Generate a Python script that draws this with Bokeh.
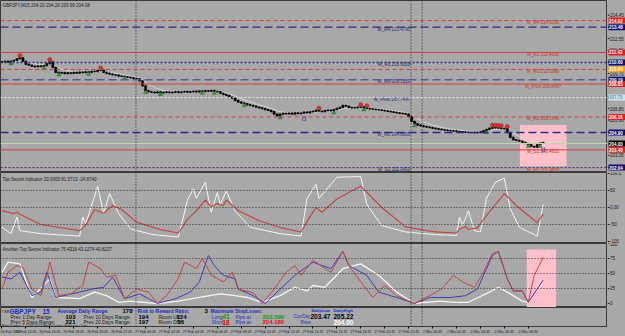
import numpy as np
from bokeh.plotting import figure
from bokeh.layouts import column, row
from bokeh.models import (Range1d, FixedTicker, Span, Label, BoxAnnotation)
from bokeh.embed import file_html
from bokeh.resources import INLINE
from bokeh.core.properties import value

# ---------------- data ----------------
closes = [210.66, 210.70, 210.64, 210.72, 210.78, 210.90, 210.98, 210.70, 210.45, 210.38,
          210.30, 210.26, 210.32, 210.28, 210.35, 210.50, 210.66, 210.20, 209.80, 209.74,
          209.78, 209.70, 209.76, 209.72, 209.80, 209.74, 209.82, 209.78, 209.84, 209.80,
          209.88, 209.86, 209.95, 209.98, 209.80, 209.72, 209.66, 209.60, 209.58, 209.50,
          209.48, 209.44, 209.40, 209.36, 209.30, 209.28, 209.10, 208.70, 208.30, 208.22,
          208.18, 208.14, 208.20, 208.12, 208.16, 208.20, 208.14, 208.18, 208.22, 208.16,
          208.20, 208.24, 208.18, 208.22, 208.26, 208.20, 208.28, 208.24, 208.30, 208.26,
          208.32, 208.24, 208.22, 208.10, 208.00, 207.92, 207.78, 207.70, 207.50, 207.38,
          207.30, 207.24, 207.16, 207.10, 207.04, 206.96, 206.90, 206.84, 206.76, 206.70,
          206.60, 206.40, 206.24, 206.40, 206.46, 206.42, 206.48, 206.40, 206.50, 206.44,
          206.48, 206.56, 206.50, 206.58, 206.62, 206.70, 206.64, 206.60, 206.68, 206.72,
          206.66, 206.76, 206.86, 206.94, 207.10, 207.04, 206.94, 206.90, 206.92, 206.96,
          206.98, 206.90, 206.86, 206.82, 206.80, 206.76, 206.74, 206.70, 206.66, 206.62,
          206.58, 206.54, 206.50, 206.46, 206.44, 206.40, 206.20, 205.80, 205.60, 205.50,
          205.44, 205.38, 205.34, 205.30, 205.24, 205.20, 205.16, 205.12, 205.10, 205.06,
          205.04, 205.02, 204.98, 204.96, 204.94, 204.92, 204.90, 204.90, 204.88, 204.90,
          204.94, 205.04, 205.14, 205.24, 205.30, 205.28, 205.26, 205.22, 205.20, 204.90,
          204.50, 204.30, 204.26, 204.20, 204.10, 204.00, 203.90, 203.76, 203.70, 203.90,
          204.04, 204.08]
first_open = 210.62

level_names = ["M_M4", "W_M4", "M_R1", "W_R1", "M_M3", "W_M3", "M_Pivot", "W_Pivot",
               "M_M2", "W_M2", "M_S1", "W_S1", "M_M1"]
level_prices = [214.0190, 213.4790, 211.4200, 210.6020, 210.0380, 209.1950, 208.8487,
                207.7497, 206.1640, 204.8950, 203.4810, 202.0400, 201.9800]
bid_price = 204.00

price_ticks = [214.45, 213.50, 212.55, 211.60, 210.65, 209.70, 208.75, 207.80, 206.85,
               205.90, 204.95, 203.05, 202.10]

# indicator 1 (white fast line, red slow line): (bar, value)
ind1_white_bar = [0, 3, 5, 6, 13, 26, 27, 28, 32, 34, 36, 39, 43, 50, 59, 62, 64, 65, 68,
                  70, 72, 73, 75, 78, 83, 93, 100, 102, 105, 106, 108, 112, 120, 122, 127,
                  135, 145, 152, 153, 154, 156, 158, 160, 162, 165, 168, 170, 173, 179, 181]
ind1_white_val = [-58, -77, -28, -68, -77, -84, -28, -48, 62, -17, 41, -18, -63, -79, -87,
                  21, 55, 27, 74, -14, 44, 9, 48, -11, -58, -77, -84, 26, 68, 27, 47, 89,
                  91, 9, -53, -72, -80, -82, -28, -53, -10, -68, -72, 27, 74, 86, -4, -58,
                  -84, 9]
ind1_red_bar = [0, 4, 5, 6, 13, 26, 28, 31, 34, 37, 40, 45, 53, 59, 62, 64, 66, 68, 70,
                72, 74, 75, 79, 86, 93, 100, 103, 105, 107, 112, 120, 127, 135, 145, 152,
                153, 155, 156, 159, 161, 168, 172, 179, 181]
ind1_red_val = [-9, -18, -14, -20, -50, -68, -52, -6, -17, 6, -6, -43, -65, -75, -35, -18,
                0, 22, 2, 12, 5, 22, -9, -39, -59, -72, -27, 0, -14, 25, 63, 0, -57, -72,
                -75, -64, -56, -64, -60, -35, 41, 6, -45, -19]
ind1_levels = [50, 0, -50]
ind1_ticks = [100, 50, 0, -50, -100]
ind1_tick_labels = ["100.0", "50", "0.00", "-50", "-100"]

# indicator 2 (red, blue, white): (bar, value)
ind2_red_bar = [0, 2, 5, 7, 10, 13, 15, 16, 19, 23, 27, 29, 33, 35, 38, 41, 45, 49, 52,
                55, 59, 61, 65, 67, 70, 74, 77, 79, 84, 87, 91, 95, 98, 100, 104, 110, 114,
                116, 120, 124, 128, 132, 138, 143, 147, 151, 154, 158, 161, 164, 166, 169,
                171, 174, 176, 178, 181]
ind2_red_val = [24, 52, 63, 60, 24, 13, 47, 69, 13, 16, 30, 69, 58, 44, 47, 8, 24, 19, 0,
                13, 42, 69, 58, 75, 47, 36, 52, 24, 18, 0, 24, 52, 63, 47, 72, 52, 87, 63,
                36, 10, 30, 13, 0, 13, 24, 47, 36, 27, 52, 83, 87, 41, 21, 21, 2, 47, 77]
ind2_blue_bar = [0, 3, 6, 10, 13, 15, 18, 26, 30, 34, 37, 41, 46, 52, 58, 63, 66, 69, 71,
                 74, 78, 79, 84, 88, 92, 98, 104, 110, 114, 116, 122, 126, 132, 138, 143,
                 150, 155, 159, 164, 166, 169, 171, 174, 176, 181]
ind2_blue_val = [44, 41, 52, 13, 19, 52, 10, 19, 24, 27, 44, 8, 16, 0, 8, 19, 36, 80, 63,
                 47, 41, 24, 13, 0, 19, 47, 69, 58, 87, 63, 47, 19, 10, 0, 10, 10, 13, 24,
                 80, 87, 41, 21, 21, 2, 39]
ind2_white_bar = [0, 2, 6, 10, 16, 18, 26, 31, 35, 39, 43, 52, 59, 66, 73, 78, 82, 87, 93,
                  98, 102, 104, 108, 114, 120, 126, 132, 138, 146, 152, 156, 163, 166, 170,
                  174, 176]
ind2_white_val = [52, 69, 66, 10, 41, 10, 8, 19, 13, 2, 4, 0, 4, 10, 16, 13, 10, 2, 13, 27,
                  21, 30, 27, 58, 66, 47, 19, 0, 4, 2, 2, 19, 27, 16, 4, 2]
ind2_levels = [75, 50, 25]
ind2_ticks = [100, 75, 50, 25, 0]
ind2_tick_labels = ["100", "75", "50", "25", "0"]

# time axis
time_tick_bars = [0, 8, 16, 24, 32, 40, 48, 56, 64, 72, 80, 88, 96, 104, 112, 120, 128,
                  136, 144, 152, 160, 168, 176]
time_tick_labels = ["26 Feb 2009", "26 Feb 14:45", "26 Feb 16:45", "26 Feb 18:45",
                    "26 Feb 20:45", "26 Feb 22:45", "27 Feb 00:45", "27 Feb 02:45",
                    "27 Feb 04:45", "27 Feb 06:45", "27 Feb 08:45", "27 Feb 10:45",
                    "27 Feb 12:45", "27 Feb 14:45", "27 Feb 16:45", "27 Feb 18:45",
                    "27 Feb 20:45", "27 Feb 22:45", "2 Mar 00:45", "2 Mar 02:45",
                    "2 Mar 04:45", "2 Mar 06:45", "2 Mar 08:45"]
separator_bars = [44.8, 136.8, 140.5]

# signal markers (bars)
red_marks = [6, 16, 33, 106, 120, 122, 164, 165, 166, 167, 169]
green_marks = [3, 14, 19, 29, 41, 48, 53, 67, 71, 81, 93, 111, 121, 138, 162, 176, 180]

# info panel values
info_stats = {"symbol": "GBPJPY", "tf": "15", "adr": "178", "rr": "3",
              "p1": "103", "p5": "221", "p10": "194", "p20": "197",
              "room_up": "124", "room_dn": "56", "long_n": "41", "short_n": "18",
              "long_px": "203.590", "short_px": "204.180",
              "dlow": "203.47", "dhigh": "205.22", "price": "204.00"}

# ---------------- styling ----------------
BG = "#a8a8a8"
WF = 607          # chart frame width
WA = 625 - WF     # price-scale strip width
xr = Range1d(-0.5, 202.5)
FONT = value("Liberation Sans")
N = len(closes)


def pane(h, yr, bottom=False):
    p = figure(width=WF, height=h, x_range=xr, y_range=yr, output_backend="svg",
               toolbar_location=None, x_axis_location="below" if bottom else None,
               y_axis_location=None, min_border_left=0, min_border_right=0,
               min_border_top=0, min_border_bottom=0)
    p.background_fill_color = BG
    p.border_fill_color = BG
    p.outline_line_color = "#3a3a3a"
    p.outline_line_width = 1
    p.grid.visible = False
    for b in separator_bars:
        p.add_layout(Span(location=b, dimension="height", line_color="#202020",
                          line_width=1, line_dash="1 2"))
    s = figure(width=WA, height=h, x_range=Range1d(0, WA), y_range=yr,
               output_backend="svg", toolbar_location=None, x_axis_location=None,
               y_axis_location=None, min_border_left=0, min_border_right=0,
               min_border_top=0, min_border_bottom=(8 if bottom else 0))
    s.background_fill_color = BG
    s.border_fill_color = BG
    s.outline_line_color = None
    s.grid.visible = False
    return p, s


def scale_ticks(s, ticks, labels, fs="4.5px"):
    s.segment(x0=[0] * len(ticks), x1=[2] * len(ticks), y0=ticks, y1=ticks,
              line_color="#202020", line_width=1)
    s.text(x=[2.5] * len(ticks), y=ticks, text=labels, text_font_size=fs,
           text_color="#1a1a1a", text_baseline="middle", text_align="left",
           text_font=FONT)


# ---------- main price pane ----------
top_p = 204.0 + 143 * 0.0815
bot_p = 204.0 - 29 * 0.0815
p1, s1 = pane(172, Range1d(bot_p, top_p))
scale_ticks(s1, price_ticks, [f"{t:.2f}" for t in price_ticks])

styles = {
    "M_M4": ("#d04040", "4 3", 1), "W_M4": ("#2a2a80", "8 4", 1.3),
    "M_R1": ("#d04040", "solid", 1), "W_R1": ("#2a2a80", "2 2", 1.3),
    "M_M3": ("#d04040", "4 3", 1), "W_M3": ("#5a5a9a", "8 4", 1.3),
    "M_Pivot": ("#d04040", "solid", 1), "W_Pivot": ("#e8e8e8", "2 2", 1),
    "M_M2": ("#d04040", "4 3", 1), "W_M2": ("#2a2a80", "8 4", 1.3),
    "M_S1": ("#d04040", "solid", 1), "W_S1": ("#2a2a80", "2 2", 1),
    "M_M1": ("#e07070", "1 3", 1),
}
p1.add_layout(BoxAnnotation(left=173.2, right=188.8, bottom=202.15, top=205.5,
                            fill_color="#ffc0cc", fill_alpha=1.0, line_color=None,
                            level="underlay"))
for name, lv in zip(level_names, level_prices):
    c, d, w = styles[name]
    p1.add_layout(Span(location=lv, dimension="width", line_color=c, line_dash=d,
                       line_width=w))
p1.add_layout(Span(location=bid_price, dimension="width", line_color="#b8d8b0",
                   line_width=1))

# level labels
wx, wy, wt = [], [], []
mx, my, mt = [], [], []
for name, lv in zip(level_names, level_prices):
    if name.startswith("W_"):
        wx.append(136.5); wy.append(lv); wt.append(f"{name} {lv:.4f}")
    else:
        mx.append(181.0); my.append(lv); mt.append(f"{name} {lv:.4f}")
p1.text(x=wx, y=wy, text=wt, text_font_size="4.5px", text_color="#28287a",
        text_align="right", text_baseline="middle", y_offset=2, text_font=FONT)
p1.text(x=mx, y=my, text=mt, text_font_size="4.5px", text_color="#c03a20",
        text_align="center", text_baseline="middle", y_offset=2, text_font=FONT)

# candles
opens = [first_open] + closes[:-1]
idx = list(range(N))
highs = [max(o, c) + 0.06 for o, c in zip(opens, closes)]
lows = [min(o, c) - 0.06 for o, c in zip(opens, closes)]
ema = []
a = 2 / (8 + 1)
for i, c in enumerate(closes):
    ema.append(c if i == 0 else ema[-1] + a * (c - ema[-1]))
p1.line(idx, ema, line_color="#d4d4d4", line_width=1)
p1.segment(x0=idx, y0=lows, x1=idx, y1=highs, line_color="black", line_width=1)
p1.vbar(x=idx, top=[max(o, c) + 0.01 for o, c in zip(opens, closes)],
        bottom=[min(o, c) - 0.01 for o, c in zip(opens, closes)], width=0.75,
        fill_color="black", line_color="black", line_width=0.5)

# markers
p1.scatter(red_marks, [highs[i] + 0.12 for i in red_marks], marker="circle",
           size=4, fill_color="#e03030", line_color="#802020", line_width=0.5)
p1.scatter(green_marks, [lows[i] - 0.08 for i in green_marks],
           marker="triangle", size=4, fill_color="#30a040", line_color="#206020",
           line_width=0.5)
p1.text(x=[101, 181], y=[lows[101] - 0.4, lows[181] - 0.5], text=["d", "d"],
        text_color="#3040d0", text_font_size="8px", text_align="center",
        text_baseline="middle", text_font=FONT)
p1.add_layout(Label(x=2, y=165, x_units="screen", y_units="screen",
                    text="GBPJPY,M15  204.20 204.28 203.99 204.08",
                    text_font_size="4.5px", text_color="#202020",
                    text_font="Liberation Sans"))

# price-scale boxes
box_y, box_c, box_t, box_tc = [], [], [], []
for name, lv in zip(level_names[:-1], level_prices[:-1]):
    bg = "#e02020" if name.startswith("M_") else "#10106a"
    tc = "white"
    if name == "M_M3":
        bg = "#f0a020"
    if name == "W_Pivot":
        bg = "#c8e8f8"; tc = "#8090a0"
    box_y.append(lv); box_c.append(bg); box_t.append(f"{lv:.2f}"); box_tc.append(tc)
box_y.append(bid_price); box_c.append("black"); box_t.append(f"{bid_price:.2f}")
box_tc.append("white")
s1.rect(x=[WA / 2 + 0.5] * len(box_y), y=box_y, width=[WA - 1] * len(box_y),
        height=6, height_units="screen", fill_color=box_c, line_color=None)
s1.text(x=[1.5] * len(box_y), y=box_y, text=box_t, text_color=box_tc,
        text_font_size="4.5px", text_font_style="bold", text_baseline="middle",
        text_align="left", text_font=FONT)

# ---------- indicator 1 ----------
p2, s2 = pane(71, Range1d(-105.9, 102.9))
scale_ticks(s2, ind1_ticks, ind1_tick_labels)
for lv in ind1_levels:
    p2.add_layout(Span(location=lv, dimension="width", line_color="#303030",
                       line_dash="1 2", line_width=1))
p2.line(ind1_white_bar, ind1_white_val, line_color="#f4f4f4", line_width=1)
p2.line(ind1_red_bar, ind1_red_val, line_color="#c04848", line_width=1.2)
p2.add_layout(Label(x=2, y=62, x_units="screen", y_units="screen",
                    text="Top Secret Indicator 20.0000 81.5713 -24.8740",
                    text_font_size="4.5px", text_color="#202020",
                    text_font="Liberation Sans"))

# ---------- indicator 2 ----------
p3, s3 = pane(64, Range1d(-6.7, 100))
scale_ticks(s3, ind2_ticks, ind2_tick_labels)
p3.add_layout(BoxAnnotation(left=175.5, right=185.3, bottom=-6.7, top=90,
                            fill_color="#ffc0cc", fill_alpha=1.0, line_color=None,
                            level="underlay"))
for lv in ind2_levels:
    p3.add_layout(Span(location=lv, dimension="width", line_color="#303030",
                       line_dash="1 2", line_width=1))
p3.line(ind2_white_bar, ind2_white_val, line_color="#f4f4f4", line_width=1.3)
p3.line(ind2_blue_bar, ind2_blue_val, line_color="#4040b0", line_width=1)
p3.line(ind2_red_bar, ind2_red_val, line_color="#c04848", line_width=1)
p3.add_layout(Label(x=2, y=56, x_units="screen", y_units="screen",
                    text="Another Top Secret Indicator 75.4318 43.1274 40.8237",
                    text_font_size="4.5px", text_color="#202020",
                    text_font="Liberation Sans"))

# ---------- info pane + time axis ----------
p4, s4 = pane(29, Range1d(0, 1), bottom=True)
xa = p4.xaxis[0]
xa.ticker = FixedTicker(ticks=time_tick_bars)
xa.major_label_overrides = {b: t for b, t in zip(time_tick_bars, time_tick_labels)}
xa.major_label_text_font_size = "3.6px"
xa.major_label_text_align = "left"
xa.major_label_text_font = "Liberation Sans"
xa.major_label_text_color = "#202020"
xa.major_label_standoff = 1
xa.major_tick_out = 2
xa.major_tick_in = 0
xa.minor_tick_line_color = None
xa.axis_line_color = "#3a3a3a"

BLUE = "#1c2cc0"
DARK = "#202020"
s = info_stats
info_items = [
    (1, 15.5, "TSR", DARK, "normal", "4px"),
    (9, 15.5, s["symbol"], BLUE, "bold", "6.5px"),
    (42, 15.5, s["tf"], BLUE, "bold", "6.5px"),
    (57, 15.5, "Average Daily Range:", BLUE, "bold", "5px"),
    (122, 15.5, s["adr"], "black", "bold", "6px"),
    (137, 15.5, "Risk to Reward Ratio:", BLUE, "bold", "5px"),
    (204, 15.5, s["rr"], "black", "bold", "6px"),
    (210, 15.5, "Maximum StopLoses:", BLUE, "bold", "5px"),
    (311, 16.5, "DailyLow", BLUE, "bold", "4.2px"),
    (333, 16.5, "DailyHigh", BLUE, "bold", "4.2px"),
    (10, 10, "Prev 1 Day Range:", DARK, "normal", "5px"),
    (65, 10, s["p1"], "black", "bold", "6px"),
    (83, 10, "Prev 10 Days Range:", DARK, "normal", "5px"),
    (138, 10, s["p10"], "black", "bold", "6px"),
    (158, 10, "Room UP:", DARK, "normal", "5px"),
    (176, 10, s["room_up"], "black", "bold", "6px"),
    (211, 10, "Long:", BLUE, "normal", "5px"),
    (222, 10, s["long_n"], "#109a10", "bold", "6.5px"),
    (235, 10, "Pips at", BLUE, "normal", "5px"),
    (262, 10, s["long_px"], "#109a10", "bold", "6px"),
    (293, 10, "CurrDay", BLUE, "normal", "4.5px"),
    (310, 10, s["dlow"], "black", "bold", "6.5px"),
    (333, 10, s["dhigh"], "black", "bold", "6.5px"),
    (10, 4.5, "Prev 5 Days Range:", DARK, "normal", "5px"),
    (65, 4.5, s["p5"], "black", "bold", "6px"),
    (83, 4.5, "Prev 20 Days Range:", DARK, "normal", "5px"),
    (138, 4.5, s["p20"], "black", "bold", "6px"),
    (158, 4.5, "Room DN:", DARK, "normal", "5px"),
    (177, 4.5, s["room_dn"], "black", "bold", "6px"),
    (211, 4.5, "Short:", BLUE, "normal", "5px"),
    (222, 4.5, s["short_n"], "#e01010", "bold", "6.5px"),
    (235, 4.5, "Pips at", BLUE, "normal", "5px"),
    (262, 4.5, s["short_px"], "#e01010", "bold", "6px"),
    (300, 4.5, "Price", BLUE, "normal", "4.5px"),
    (333, 4.5, s["price"], "white", "bold", "6.5px"),
    (1, 0.5, "MetaTrader, \u00a9 2005-2007 MetaQuotes Software Corp.", DARK, "normal",
     "3.6px"),
]
for x, y, t, c, st, fs in info_items:
    p4.add_layout(Label(x=x, y=y, x_units="screen", y_units="screen", text=t,
                        text_color=c, text_font_style=st, text_font_size=fs,
                        text_baseline="middle", text_font="Liberation Sans"))

rows = [row(p, sp, spacing=0) for p, sp in [(p1, s1), (p2, s2), (p3, s3), (p4, s4)]]
layout = column(*rows, spacing=0, background=BG)
open("out.html", "w").write(file_html(layout, INLINE))
